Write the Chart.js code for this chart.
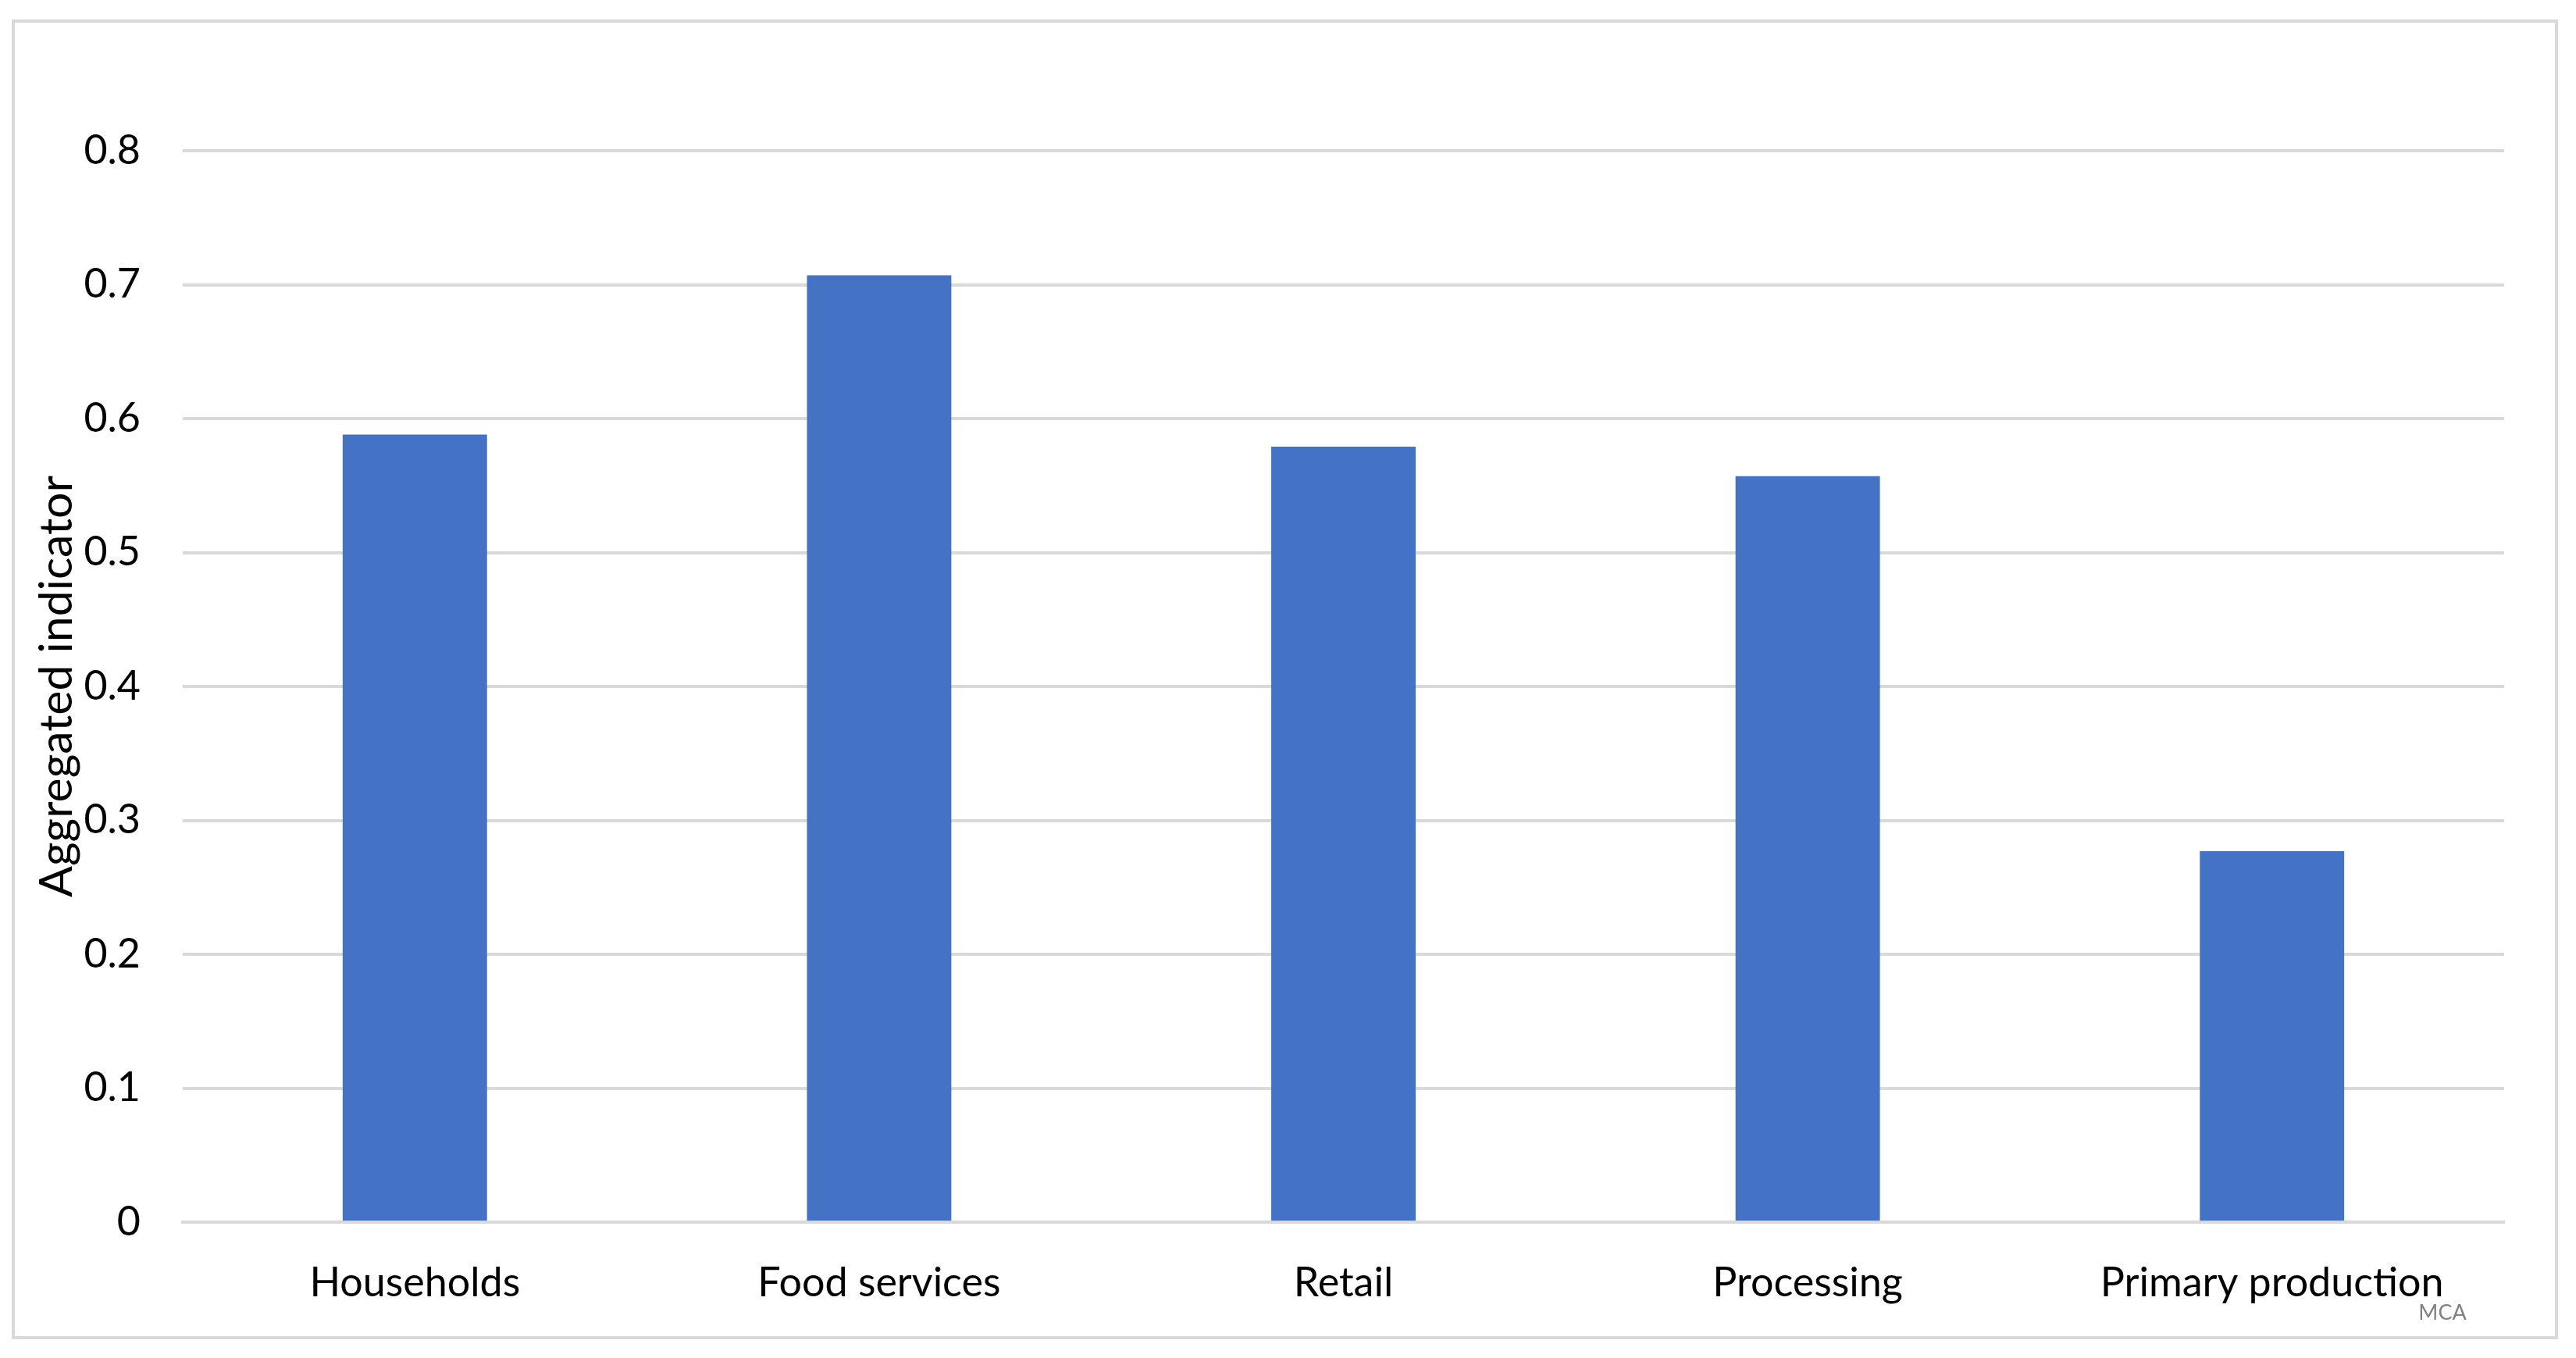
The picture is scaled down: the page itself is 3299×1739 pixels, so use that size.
<!DOCTYPE html>
<html>
<head>
<meta charset="utf-8">
<script src="https://cdn.jsdelivr.net/npm/chart.js@4.4.1/dist/chart.umd.min.js"></script>
<style>
  html, body { margin: 0; padding: 0; background: #ffffff; }
  #wrap { width: 3299px; height: 1739px; position: relative; }
</style>
</head>
<body>
<div id="wrap"><canvas id="c" width="3299" height="1739"></canvas></div>
<script>
const categories = ["Households", "Food services", "Retail", "Processing", "Primary production"];
const aggregatedIndicator = [0.588, 0.707, 0.579, 0.557, 0.277];
const yTicks = [0, 0.1, 0.2, 0.3, 0.4, 0.5, 0.6, 0.7, 0.8];
const yAxisTitle = "Aggregated indicator";
const footnote = "MCA";

const FONT = "Lato, 'Open Sans', sans-serif";

const frameAndNote = {
  id: 'frameAndNote',
  beforeDraw(chart) {
    const ctx = chart.ctx;
    ctx.save();
    ctx.fillStyle = '#ffffff';
    ctx.fillRect(0, 0, chart.width, chart.height);
    ctx.restore();
  },
  afterDraw(chart) {
    const ctx = chart.ctx;
    ctx.save();
    ctx.strokeStyle = '#d9d9d9';
    ctx.lineWidth = 4;
    ctx.strokeRect(17, 27, 3257, 1686);
    ctx.fillStyle = '#808080';
    ctx.font = "27px " + FONT;
    ctx.textAlign = 'center';
    ctx.textBaseline = 'middle';
    ctx.fillText(footnote, 3128, 1681);
    ctx.restore();
  }
};

new Chart(document.getElementById('c'), {
  type: 'bar',
  data: {
    labels: categories,
    datasets: [{
      label: yAxisTitle,
      data: aggregatedIndicator,
      backgroundColor: '#4472c4',
      borderWidth: 0,
      barPercentage: 0.311,
      categoryPercentage: 1.0
    }]
  },
  options: {
    responsive: false,
    animation: false,
    devicePixelRatio: 1,
    layout: { padding: { left: 38, right: 92, top: 193, bottom: 48 } },
    plugins: {
      legend: { display: false },
      tooltip: { enabled: false }
    },
    scales: {
      x: {
        grid: { display: false, drawTicks: false },
        border: { display: true, color: '#d9d9d9', width: 4 },
        ticks: { color: '#000000', font: { family: FONT, size: 52 }, padding: 47, maxRotation: 0, autoSkip: false },
        afterFit(scale) { scale.height = 126; }
      },
      y: {
        min: 0,
        max: 0.8,
        afterBuildTicks(scale) { scale.ticks = yTicks.map(v => ({ value: v })); },
        grid: { color: '#d9d9d9', lineWidth: 4, drawTicks: false },
        border: { display: false },
        ticks: {
          color: '#000000',
          font: { family: FONT, size: 52 },
          padding: 54,
          callback: v => String(v)
        },
        title: {
          display: true,
          text: yAxisTitle,
          color: '#000000',
          font: { family: FONT, size: 59 },
          padding: 0
        },
        afterFit(scale) { scale.width = 196; }
      }
    }
  },
  plugins: [frameAndNote]
});
</script>
</body>
</html>
